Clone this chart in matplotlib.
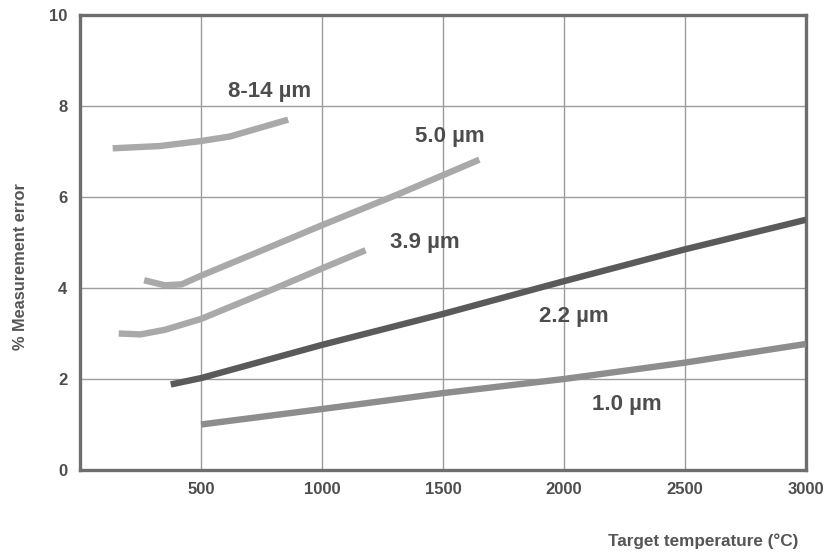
import matplotlib
matplotlib.use("Agg")
import matplotlib.pyplot as plt

plt.rcParams['font.family'] = ['Liberation Sans', 'DejaVu Sans']

# ---- data ----
t_814 = [135, 330, 500, 620, 860]
e_814 = [7.07, 7.12, 7.23, 7.33, 7.70]

t_50 = [265, 350, 420, 500, 740, 1000, 1310, 1500, 1650]
e_50 = [4.17, 4.06, 4.08, 4.27, 4.80, 5.38, 6.05, 6.48, 6.82]

t_39 = [160, 250, 350, 500, 810, 1000, 1180]
e_39 = [3.00, 2.98, 3.08, 3.32, 4.00, 4.43, 4.83]

t_22 = [375, 500, 1000, 1500, 2000, 2500, 3000]
e_22 = [1.88, 2.02, 2.75, 3.43, 4.15, 4.85, 5.50]

t_10 = [500, 1000, 1500, 2000, 2500, 3000]
e_10 = [1.00, 1.34, 1.69, 2.00, 2.36, 2.77]

series_labels = ["8-14 µm", "5.0 µm", "3.9 µm", "2.2 µm", "1.0 µm"]
label_t = [783, 1528, 1424, 2042, 2260]
label_e = [8.32, 7.34, 4.99, 3.37, 1.43]

x_ticks = [500, 1000, 1500, 2000, 2500, 3000]
y_ticks = [0, 2, 4, 6, 8, 10]

# ---- figure ----
fig = plt.figure(figsize=(8.25, 5.54), dpi=100)
ax = fig.add_axes([80/825, 1-470/554, (806-80)/825, (470-15)/554])

light = "#a9a9a9"
mid = "#8d8d8d"
dark = "#5a5a5a"
lw = 4.6
series = [(t_814, e_814, light), (t_50, e_50, light), (t_39, e_39, light),
          (t_22, e_22, dark), (t_10, e_10, mid)]
for t, e, c in series:
    ax.plot(t, e, color=c, lw=lw, solid_capstyle='butt', solid_joinstyle='round', zorder=3)

txt_col = "#4d4d4d"
for s, tx, ey in zip(series_labels, label_t, label_e):
    ax.text(tx, ey, s, ha='center', va='center', fontsize=16, fontweight='bold',
            color=txt_col, zorder=4)

ax.set_xlim(0, 3000)
ax.set_ylim(0, 10)
ax.set_xticks(x_ticks)
ax.set_yticks(y_ticks)
ax.set_xticklabels([str(v) for v in x_ticks])
ax.set_yticklabels([str(v) for v in y_ticks])
ax.tick_params(length=0, labelsize=12, labelcolor=txt_col, pad=9)
for lab in ax.get_xticklabels() + ax.get_yticklabels():
    lab.set_fontweight('bold')

ax.grid(True, color="#9c9c9c", lw=1.0, zorder=1)
ax.set_axisbelow(True)
for sp in ax.spines.values():
    sp.set_color("#6e6e6e")
    sp.set_linewidth(2.4)

fig.text(21/825, 1-267/554, "% Measurement error", rotation=90, ha='center', va='center',
         fontsize=11.8, fontweight='bold', color="#555555")
fig.text(703/825, 1-541/554, "Target temperature (°C)", ha='center', va='center',
         fontsize=12.3, fontweight='bold', color="#555555")

fig.savefig("out.png", dpi=100)
